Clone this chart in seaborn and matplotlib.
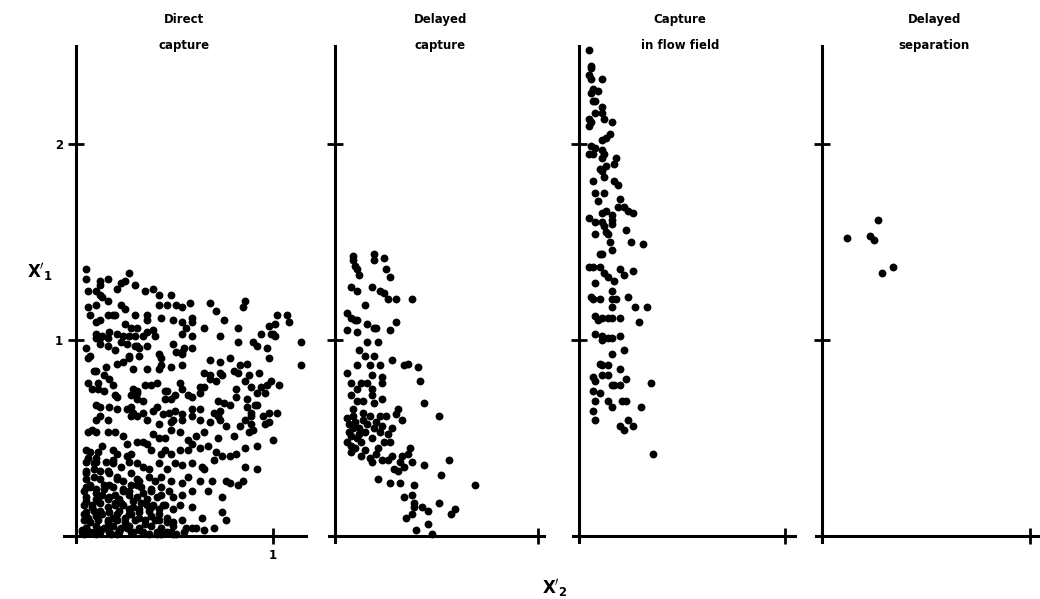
import matplotlib
matplotlib.use('Agg')
import matplotlib.pyplot as plt
import seaborn as sns
import pandas as pd

######################################################################### data ##########################################################
titles = [("Direct", "capture"), ("Delayed", "capture"), ("Capture", "in flow field"), ("Delayed", "separation")]
title_x = [0.55, 0.52, 0.49, 0.54]

# panel 1 : direct capture  (X'2, X'1)
direct = [
	(0.05,1.36),(0.27,1.34),(0.05,1.31),(0.12,1.30),(0.16,1.31),(0.23,1.29),(0.25,1.30),(0.12,1.28),(0.30,1.28),(0.21,1.26),
	(0.06,1.25),(0.10,1.25),(0.12,1.23),(0.35,1.25),(0.39,1.26),(0.13,1.22),(0.42,1.23),(0.48,1.23),(0.16,1.20),(0.10,1.18),
	(0.06,1.17),(0.23,1.18),(0.19,1.13),(0.25,1.16),(0.42,1.18),(0.46,1.18),(0.51,1.18),(0.54,1.17),(0.58,1.19),(0.68,1.19),
	(0.71,1.15),(0.86,1.20),(0.85,1.17),(0.07,1.13),(0.16,1.13),(0.20,1.13),(0.30,1.13),(0.36,1.13),(0.43,1.11),(0.49,1.10),
	(0.54,1.09),(0.59,1.11),(0.59,1.09),(0.75,1.10),(1.02,1.13),(1.07,1.13),(1.08,1.09),(0.12,1.10),(0.10,1.09),(0.25,1.08),
	(0.28,1.06),(0.31,1.06),(0.36,1.10),(0.39,1.05),(0.36,1.04),(0.56,1.06),(0.65,1.06),(0.82,1.06),(0.98,1.07),(1.01,1.08),
	(0.10,1.03),(0.13,1.02),(0.17,1.04),(0.21,1.03),(0.24,1.02),(0.27,1.02),(0.30,1.02),(0.34,1.02),(0.40,1.02),(0.49,0.98),
	(0.54,1.03),(0.59,1.02),(0.73,1.02),(0.94,1.03),(0.99,1.03),(1.00,1.03),(1.01,1.02),(0.10,1.01),(0.12,1.01),(0.16,1.01),
	(0.23,0.99),(0.26,0.98),(0.30,0.97),(0.31,0.97),(0.36,0.97),(0.05,0.96),(0.12,0.98),(0.20,0.95),(0.55,0.96),(0.59,0.96),
	(0.82,0.99),(0.90,0.99),(0.92,0.97),(1.14,0.99),(0.16,0.97),(0.32,0.92),(0.42,0.93),(0.43,0.91),(0.51,0.94),(0.54,0.93),
	(0.54,0.94),(0.07,0.92),(0.06,0.91),(0.27,0.92),(0.27,0.91),(0.32,0.96),(0.68,0.90),(0.73,0.89),(0.78,0.91),(0.97,0.96),
	(0.98,0.91),(1.14,0.87),(0.24,0.89),(0.21,0.88),(0.15,0.86),(0.10,0.84),(0.09,0.84),(0.14,0.82),(0.29,0.85),(0.36,0.85),
	(0.42,0.85),(0.43,0.87),(0.48,0.86),(0.54,0.87),(0.65,0.83),(0.68,0.82),(0.73,0.83),(0.74,0.82),(0.80,0.84),(0.82,0.83),
	(0.83,0.87),(0.87,0.88),(0.88,0.82),(0.93,0.83),(0.06,0.78),(0.11,0.78),(0.17,0.80),(0.19,0.77),(0.29,0.75),(0.31,0.74),
	(0.31,0.73),(0.35,0.77),(0.38,0.77),(0.41,0.78),(0.45,0.74),(0.46,0.74),(0.53,0.78),(0.54,0.75),(0.63,0.76),(0.65,0.76),
	(0.68,0.80),(0.71,0.79),(0.81,0.75),(0.86,0.79),(0.89,0.76),(0.94,0.76),(0.97,0.77),(0.99,0.79),(1.03,0.77),(0.08,0.75),
	(0.11,0.75),(0.14,0.74),(0.20,0.72),(0.21,0.71),(0.28,0.72),(0.31,0.70),(0.34,0.69),(0.45,0.70),(0.48,0.70),(0.50,0.72),
	(0.57,0.72),(0.59,0.71),(0.63,0.73),(0.72,0.69),(0.75,0.68),(0.78,0.67),(0.81,0.71),(0.87,0.70),(0.92,0.73),(0.96,0.73),
	(0.10,0.67),(0.12,0.66),(0.17,0.66),(0.21,0.65),(0.26,0.65),(0.28,0.66),(0.29,0.63),(0.34,0.63),(0.39,0.64),(0.41,0.66),
	(0.47,0.63),(0.50,0.64),(0.54,0.62),(0.59,0.65),(0.63,0.65),(0.70,0.63),(0.73,0.64),(0.72,0.61),(0.87,0.66),(0.89,0.63),
	(0.91,0.67),(0.92,0.67),(0.98,0.63),(1.02,0.63),(0.95,0.61),(0.10,0.59),(0.12,0.61),(0.16,0.59),(0.28,0.61),(0.31,0.61),
	(0.36,0.59),(0.42,0.57),(0.44,0.62),(0.48,0.58),(0.49,0.59),(0.54,0.59),(0.59,0.61),(0.63,0.59),(0.68,0.58),(0.73,0.59),
	(0.76,0.56),(0.83,0.56),(0.86,0.59),(0.89,0.61),(0.89,0.57),(0.96,0.57),(0.98,0.58),(0.06,0.53),(0.08,0.54),(0.10,0.53),
	(0.16,0.53),(0.20,0.53),(0.24,0.51),(0.26,0.47),(0.31,0.48),(0.34,0.48),(0.39,0.52),(0.42,0.50),(0.45,0.50),(0.48,0.54),
	(0.53,0.53),(0.57,0.49),(0.59,0.47),(0.61,0.51),(0.65,0.53),(0.72,0.50),(0.80,0.51),(0.88,0.53),(1.00,0.49),(0.90,0.54),
	(0.05,0.44),(0.07,0.43),(0.11,0.43),(0.13,0.46),(0.19,0.44),(0.21,0.42),(0.26,0.41),(0.28,0.42),(0.36,0.47),(0.38,0.44),
	(0.43,0.42),(0.45,0.44),(0.48,0.42),(0.53,0.44),(0.57,0.44),(0.63,0.45),(0.67,0.46),(0.71,0.43),(0.74,0.41),(0.81,0.42),
	(0.86,0.45),(0.92,0.46),(0.78,0.41),(0.06,0.40),(0.09,0.37),(0.10,0.40),(0.15,0.38),(0.19,0.37),(0.23,0.35),(0.27,0.38),
	(0.31,0.37),(0.34,0.35),(0.37,0.34),(0.42,0.37),(0.46,0.34),(0.50,0.37),(0.54,0.36),(0.59,0.37),(0.64,0.35),(0.65,0.34),
	(0.70,0.39),(0.86,0.35),(0.92,0.34),(0.05,0.32),(0.09,0.30),(0.12,0.33),(0.17,0.32),(0.21,0.29),(0.24,0.28),(0.28,0.32),
	(0.32,0.28),(0.37,0.30),(0.40,0.28),(0.43,0.30),(0.48,0.28),(0.54,0.27),(0.57,0.30),(0.63,0.28),(0.69,0.28),(0.76,0.28),
	(0.78,0.27),(0.82,0.26),(0.85,0.28),(0.04,0.23),(0.07,0.25),(0.10,0.22),(0.14,0.24),(0.17,0.26),(0.20,0.21),(0.24,0.23),
	(0.27,0.23),(0.31,0.26),(0.34,0.22),(0.38,0.23),(0.43,0.21),(0.47,0.23),(0.49,0.20),(0.54,0.21),(0.59,0.23),(0.67,0.23),
	(0.74,0.20),(0.05,0.18),(0.08,0.16),(0.11,0.18),(0.16,0.19),(0.20,0.16),(0.23,0.17),(0.27,0.14),(0.29,0.18),(0.32,0.14),
	(0.36,0.16),(0.39,0.16),(0.42,0.14),(0.45,0.16),(0.49,0.14),(0.59,0.15),(0.53,0.16),(0.74,0.12),(0.04,0.11),(0.06,0.09),
	(0.10,0.10),(0.12,0.13),(0.16,0.08),(0.19,0.09),(0.21,0.11),(0.25,0.09),(0.28,0.11),(0.32,0.09),(0.35,0.08),(0.38,0.10),
	(0.42,0.08),(0.46,0.09),(0.49,0.07),(0.54,0.08),(0.64,0.09),(0.76,0.08),(0.59,0.04),(0.03,0.03),(0.05,0.04),(0.09,0.02),
	(0.12,0.03),(0.16,0.04),(0.18,0.01),(0.22,0.03),(0.26,0.04),(0.29,0.02),(0.32,0.03),(0.37,0.01),(0.41,0.02),(0.46,0.02),
	(0.51,0.01),(0.55,0.02),(0.61,0.04),(0.65,0.03),(0.70,0.04),(0.04,0.01),(0.10,0.01),(0.21,0.01),(0.43,0.01),(0.49,0.01),
	# dense corner
	(0.05,0.25),(0.07,0.26),(0.10,0.24),(0.14,0.26),(0.19,0.25),(0.24,0.24),(0.28,0.26),(0.33,0.25),(0.38,0.24),(0.43,0.25),
	(0.05,0.20),(0.10,0.19),(0.13,0.21),(0.17,0.20),(0.22,0.19),(0.27,0.21),(0.31,0.20),(0.36,0.19),(0.41,0.20),
	(0.04,0.16),(0.08,0.15),(0.12,0.17),(0.16,0.15),(0.20,0.17),(0.24,0.16),(0.29,0.15),(0.33,0.17),(0.38,0.15),(0.44,0.16),
	(0.05,0.12),(0.09,0.13),(0.13,0.11),(0.17,0.12),(0.22,0.13),(0.27,0.11),(0.32,0.12),(0.37,0.13),(0.42,0.11),
	(0.04,0.08),(0.07,0.07),(0.11,0.08),(0.16,0.07),(0.21,0.08),(0.25,0.07),(0.30,0.08),(0.35,0.06),(0.40,0.08),(0.46,0.07),
	(0.05,0.04),(0.10,0.05),(0.14,0.04),(0.19,0.05),(0.23,0.04),(0.27,0.05),(0.32,0.04),(0.38,0.05),(0.43,0.04),(0.49,0.05),
	(0.56,0.04),(0.03,0.02),(0.07,0.02),(0.12,0.02),(0.17,0.02),(0.22,0.02),(0.28,0.02),(0.34,0.02),(0.41,0.01),(0.48,0.02),
	(0.05,0.29),(0.12,0.29),(0.21,0.30),(0.31,0.29),(0.05,0.33),(0.09,0.34),(0.16,0.33),(0.05,0.38),(0.10,0.38),(0.19,0.39),
]

# panel 2 : delayed capture
delayed = [
	(0.09,1.43),(0.09,1.41),(0.19,1.44),(0.19,1.41),(0.24,1.42),(0.10,1.38),(0.11,1.36),(0.12,1.33),(0.25,1.36),(0.27,1.32),
	(0.08,1.27),(0.11,1.25),(0.18,1.27),(0.22,1.25),(0.24,1.24),(0.26,1.21),(0.30,1.21),(0.38,1.21),(0.15,1.18),(0.06,1.14),
	(0.08,1.11),(0.10,1.10),(0.11,1.10),(0.16,1.08),(0.20,1.06),(0.19,1.06),(0.30,1.09),(0.06,1.05),(0.11,1.04),(0.27,1.05),
	(0.16,0.99),(0.21,0.99),(0.12,0.95),(0.15,0.92),(0.19,0.92),(0.28,0.90),(0.34,0.87),(0.36,0.88),(0.41,0.86),(0.11,0.87),
	(0.17,0.87),(0.22,0.87),(0.06,0.83),(0.18,0.82),(0.23,0.81),(0.42,0.79),(0.08,0.78),(0.13,0.78),(0.16,0.78),(0.23,0.78),
	(0.11,0.75),(0.18,0.75),(0.08,0.72),(0.18,0.72),(0.23,0.70),(0.11,0.69),(0.14,0.69),(0.19,0.68),(0.44,0.68),(0.09,0.65),
	(0.31,0.65),(0.30,0.62),(0.06,0.60),(0.09,0.61),(0.14,0.63),(0.17,0.61),(0.22,0.61),(0.25,0.61),(0.33,0.59),(0.51,0.61),
	(0.07,0.57),(0.09,0.55),(0.16,0.57),(0.19,0.55),(0.23,0.56),(0.28,0.55),(0.08,0.51),(0.12,0.52),(0.15,0.53),(0.22,0.53),
	(0.26,0.52),(0.06,0.48),(0.08,0.46),(0.13,0.48),(0.24,0.48),(0.27,0.48),(0.08,0.43),(0.13,0.41),(0.17,0.40),(0.20,0.42),
	(0.18,0.38),(0.23,0.39),(0.26,0.39),(0.28,0.41),(0.33,0.41),(0.37,0.45),(0.36,0.42),(0.32,0.38),(0.38,0.38),(0.44,0.36),
	(0.56,0.39),(0.29,0.34),(0.31,0.33),(0.34,0.35),(0.21,0.29),(0.27,0.27),(0.32,0.27),(0.52,0.31),(0.39,0.26),(0.69,0.26),
	(0.34,0.20),(0.38,0.21),(0.39,0.17),(0.39,0.15),(0.43,0.15),(0.46,0.13),(0.51,0.17),(0.59,0.14),(0.35,0.09),(0.38,0.11),
	(0.57,0.11),(0.46,0.06),(0.40,0.03),(0.48,0.01),
	(0.10,0.58),(0.12,0.55),(0.14,0.59),(0.20,0.58),(0.11,0.50),(0.18,0.50),(0.10,0.45),(0.15,0.44),(0.21,0.45),(0.07,0.53),
]

# panel 3 : capture in flow field
flowfield = [
	(0.05,2.48),(0.06,2.40),(0.06,2.39),(0.05,2.35),(0.06,2.33),(0.11,2.33),(0.07,2.28),(0.09,2.27),(0.06,2.26),(0.07,2.22),
	(0.08,2.22),(0.11,2.19),(0.11,2.16),(0.08,2.16),(0.12,2.13),(0.16,2.11),(0.05,2.13),(0.05,2.09),(0.06,2.11),(0.15,2.05),
	(0.11,2.02),(0.13,2.03),(0.06,1.99),(0.08,1.98),(0.11,1.97),(0.05,1.95),(0.07,1.95),(0.12,1.95),(0.11,1.93),(0.18,1.93),
	(0.17,1.90),(0.13,1.89),(0.10,1.87),(0.11,1.86),(0.12,1.83),(0.07,1.81),(0.17,1.81),(0.19,1.79),(0.08,1.75),(0.12,1.75),
	(0.09,1.71),(0.20,1.72),(0.22,1.68),(0.19,1.68),(0.24,1.66),(0.26,1.65),(0.11,1.65),(0.13,1.66),(0.16,1.64),(0.05,1.62),
	(0.08,1.60),(0.11,1.60),(0.12,1.58),(0.13,1.55),(0.16,1.61),(0.16,1.59),(0.23,1.56),(0.08,1.54),(0.14,1.54),(0.15,1.50),
	(0.25,1.50),(0.31,1.49),(0.10,1.44),(0.11,1.44),(0.16,1.46),(0.05,1.37),(0.07,1.37),(0.10,1.37),(0.12,1.34),(0.14,1.32),
	(0.20,1.36),(0.22,1.33),(0.26,1.35),(0.08,1.29),(0.17,1.30),(0.16,1.25),(0.06,1.22),(0.07,1.21),(0.10,1.21),(0.16,1.21),
	(0.18,1.21),(0.24,1.22),(0.27,1.17),(0.33,1.17),(0.16,1.17),(0.08,1.12),(0.09,1.10),(0.11,1.11),(0.14,1.11),(0.16,1.11),
	(0.20,1.11),(0.29,1.09),(0.08,1.03),(0.11,1.02),(0.11,1.00),(0.14,1.01),(0.16,1.01),(0.20,1.02),(0.22,0.95),(0.10,0.88),
	(0.11,0.87),(0.14,0.87),(0.16,0.93),(0.20,0.85),(0.07,0.81),(0.08,0.79),(0.11,0.82),(0.14,0.82),(0.16,0.77),(0.17,0.77),
	(0.20,0.77),(0.23,0.80),(0.35,0.78),(0.07,0.74),(0.10,0.73),(0.08,0.69),(0.14,0.69),(0.16,0.66),(0.21,0.69),(0.23,0.69),
	(0.30,0.66),(0.07,0.64),(0.08,0.59),(0.20,0.56),(0.22,0.54),(0.24,0.59),(0.26,0.56),(0.36,0.42),
]

# panel 4 : delayed separation
separation = [(0.12,1.52),(0.23,1.53),(0.25,1.51),(0.27,1.61),(0.29,1.34),(0.34,1.37)]

panels = [direct, delayed, flowfield, separation]

######################################################################### plot ##########################################################
sns.set_style('white')
plt.rcParams['font.family'] = ['DejaVu Sans']
plt.rcParams['mathtext.fontset'] = 'dejavusans'
plt.rcParams['text.color'] = 'black'
plt.rcParams['xtick.color'] = 'black'
plt.rcParams['ytick.color'] = 'black'

W, H = 1040, 599
fig = plt.figure(figsize=(W / 100, H / 100), dpi=100)

# y axis pixel column, pixels per unit, x limits
geo = [(76, 197, -0.06, 1.18), (335, 203, -0.04, 1.04), (579, 206, -0.05, 1.06), (822, 208, -0.04, 1.05)]
y0, yunit, ylo, yhi = 536, 196, -0.05, 2.52

for i, (pts, (px, unit, xlo, xhi)) in enumerate(zip(panels, geo)):
	left = px + xlo * unit
	width = (xhi - xlo) * unit
	bottom = H - (y0 - ylo * yunit)
	height = (yhi - ylo) * yunit
	ax = fig.add_axes([left / W, bottom / H, width / W, height / H])
	df = pd.DataFrame(pts, columns=['x2', 'x1'])
	sns.scatterplot(data=df, x='x2', y='x1', ax=ax, color='black', s=32, linewidth=0, legend=False)
	ax.set_xlim(xlo, xhi)
	ax.set_ylim(ylo, yhi)
	ax.set_xlabel('')
	ax.set_ylabel('')
	for s in ['top', 'right']:
		ax.spines[s].set_visible(False)
	ax.spines['left'].set_position(('data', 0))
	ax.spines['bottom'].set_position(('data', 0))
	ax.spines['left'].set_bounds(-0.03, 2.5)
	ax.spines['bottom'].set_bounds(xlo if i == 0 else -0.03, xhi - 0.01)
	for s in ['left', 'bottom']:
		ax.spines[s].set_linewidth(2.2)
		ax.spines[s].set_color('black')
	ax.set_xticks([1])
	ax.set_yticks([1, 2])
	ax.tick_params(bottom=True, left=True, direction='inout', length=11, width=2, color='black', pad=4)
	if i == 0:
		ax.set_xticklabels(['1'], fontsize=8.5, fontweight='bold')
		ax.set_yticklabels(['1', '2'], fontsize=8.5, fontweight='bold')
	else:
		ax.set_xticklabels([])
		ax.set_yticklabels([])
	ax.patch.set_alpha(0)
	t1, t2 = titles[i]
	ax.text(title_x[i], 1.044, t1, transform=ax.get_xaxis_transform(), ha='center', va='center', fontsize=8.5, fontweight='bold')
	ax.text(title_x[i], 0.994, t2, transform=ax.get_xaxis_transform(), ha='center', va='center', fontsize=8.5, fontweight='bold')

fig.text(40 / W, 1 - 272 / H, r"$\mathbf{X'_1}$", ha='center', va='center', fontsize=12)
fig.text(555 / W, 1 - 588 / H, r"$\mathbf{X'_2}$", ha='center', va='center', fontsize=12)

fig.savefig('out.png', dpi=100)
plt.close(fig)
